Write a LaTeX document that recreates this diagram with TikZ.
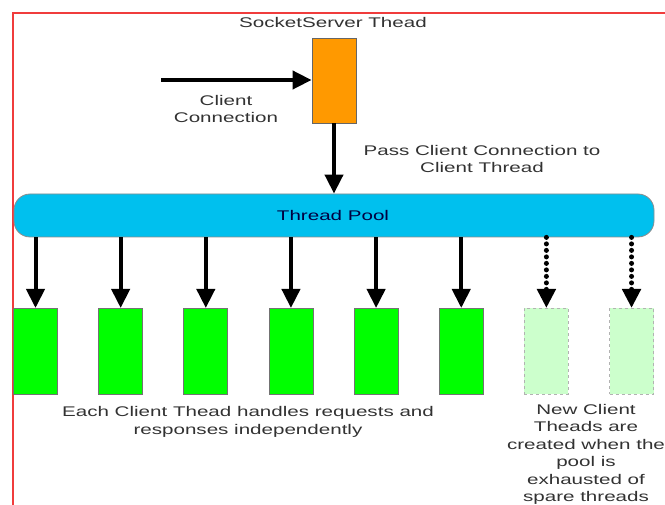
\documentclass[tikz,border=0pt]{standalone}
\usepackage{fontspec}
\setmainfont{Liberation Sans}
\usetikzlibrary{arrows.meta}
\definecolor{frame}{RGB}{240,60,60}
\definecolor{server}{RGB}{255,153,0}
\definecolor{poolblue}{RGB}{0,192,238}
\definecolor{live}{RGB}{0,255,0}
\definecolor{spare}{RGB}{204,255,204}
\definecolor{ink}{RGB}{50,50,50}
\begin{document}
\begin{tikzpicture}[x=1pt,y=-1pt,
  lbl/.style={font=\fontsize{14}{17.5}\selectfont, text=ink, align=center,
    xscale=1.47, inner sep=0pt},
  box/.style={draw=black!55, line width=0.8pt, minimum width=44pt,
    minimum height=86pt, inner sep=0pt, anchor=north},
  livebox/.style={box, fill=live},
  sparebox/.style={box, fill=spare, draw=black!30, dashed},
  flow/.style={line width=4pt, -{Triangle[width=18pt,length=19pt]}},
  spareflow/.style={line width=5pt, line cap=round, dash pattern=on 0pt off 6.5pt,
    -{Triangle[width=18pt,length=19pt]}},
]
\useasboundingbox (0,0) rectangle (665,505);
\clip (0,0) rectangle (665,505);

% outer frame
\draw[frame, line width=2pt] (12.5,520) -- (12.5,13) -- (680,13);

% server thread
\node[draw=black!60, line width=0.8pt, fill=server, minimum width=44pt,
  minimum height=85pt, inner sep=0pt] (ss) at (334,80.5) {};
\node[lbl] (ssl) at (333,22) {SocketServer Thead};

% incoming client connection
\coordinate (cin) at (161,80);
\draw[flow] (cin) -- (ss.west |- cin);
\node[lbl] (ccl) at (226,109) {Client\\Connection};

% thread pool
\node[draw=black!45, line width=0.8pt, fill=poolblue, rounded corners=16pt,
  minimum width=640pt, minimum height=43pt, inner sep=0pt] (pool) at (334,215.5) {};
\node[lbl, text=black!75!blue] (pooll) at (333,215) {Thread Pool};

\draw[flow] (ss.south) -- (pool.north -| ss.south);
\node[lbl] (passl) at (482,159) {Pass Client Connection to\\Client Thread};

% client threads
\foreach \i in {1,...,6} {
  \node[livebox] (g\i) at ({35.5+85.15*(\i-1)},308) {};
  \draw[flow] (pool.south -| g\i.north) -- (g\i.north);
}
\foreach \i in {7,8} {
  \node[sparebox] (g\i) at ({35.5+85.15*(\i-1)},308) {};
  \draw[spareflow] (pool.south -| g\i.north) -- (g\i.north);
}

\node[lbl] (eachl) at (248,422) {Each Client Thead handles requests and\\responses independently};
\node[lbl, anchor=north] (newl) at (586,404) {New Client\\Theads are\\created when the\\pool is\\exhausted of\\spare threads};
\end{tikzpicture}
\end{document}
